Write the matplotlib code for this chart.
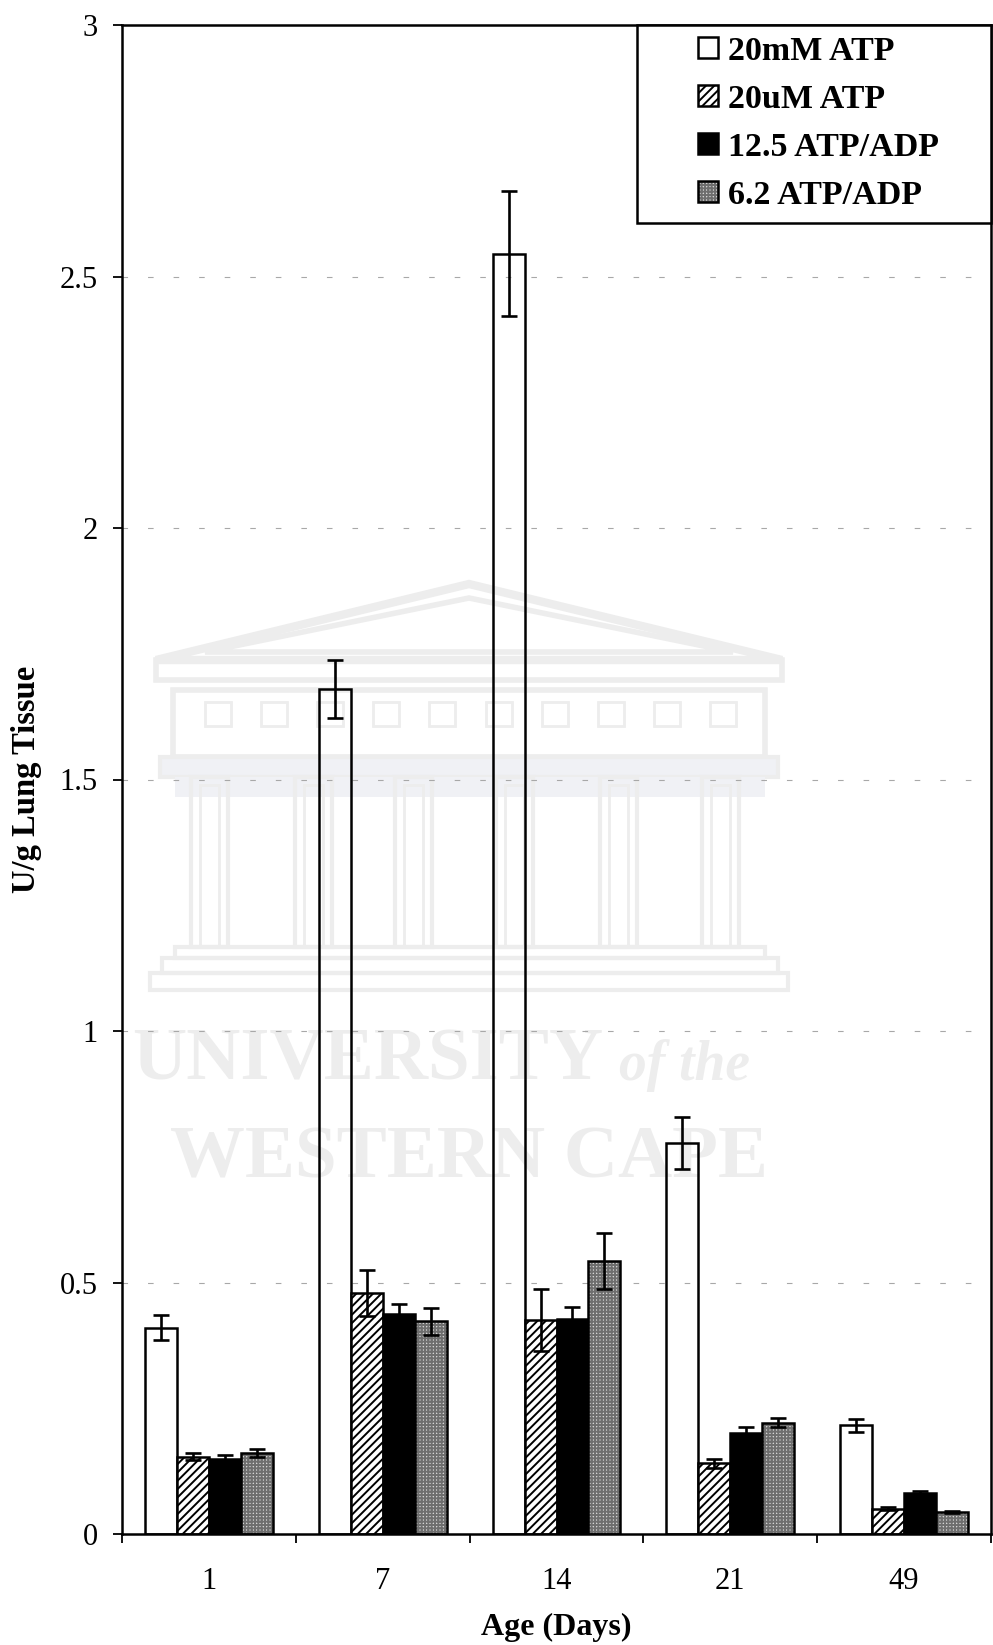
import matplotlib
matplotlib.use("Agg")
import matplotlib.pyplot as plt
import numpy as np
from matplotlib.patches import Patch, Rectangle, Polygon
from matplotlib.legend_handler import HandlerTuple
from matplotlib.ticker import FixedLocator, FuncFormatter

# ---- data -------------------------------------------------------------
ages = ["1", "7", "14", "21", "49"]
series = ["20mM ATP", "20uM ATP", "12.5 ATP/ADP", "6.2 ATP/ADP"]

atp_20mM = [0.41, 1.68, 2.545, 0.777, 0.216]
atp_20uM = [0.154, 0.479, 0.425, 0.141, 0.050]
ratio_12_5 = [0.150, 0.438, 0.427, 0.201, 0.081]
ratio_6_2 = [0.161, 0.423, 0.543, 0.221, 0.044]

err_20mM = [0.025, 0.058, 0.124, 0.052, 0.013]
err_20uM = [0.007, 0.046, 0.062, 0.009, 0.003]
err_12_5 = [0.008, 0.020, 0.025, 0.012, 0.004]
err_6_2 = [0.008, 0.027, 0.056, 0.009, 0.002]

y_ticks = [0, 0.5, 1, 1.5, 2, 2.5, 3]

# ---- style ------------------------------------------------------------
plt.rcParams["font.family"] = ["Liberation Serif", "DejaVu Serif"]
plt.rcParams["hatch.linewidth"] = 1.4

W, H = 993, 1645
fig = plt.figure(figsize=(W / 100, H / 100), dpi=100)


# ---- faint university crest behind the plot -----------------------------
def fp(px, py):
    """pixel position (from the top-left corner) -> figure fraction"""
    return (px / W, 1 - py / H)


mark = "#ededed"
band = "#f0f1f5"


def frect(x0, y0, x1, y1, fill="none", edge=mark, lw=2.5):
    fig.patches.append(Rectangle(fp(x0, y1), (x1 - x0) / W, (y1 - y0) / H,
                                 transform=fig.transFigure, facecolor=fill,
                                 edgecolor=edge, lw=lw, zorder=-5))


def fpoly(pts, lw=5):
    fig.patches.append(Polygon([fp(*p) for p in pts], closed=True,
                               transform=fig.transFigure, facecolor="none",
                               edgecolor=mark, lw=lw, zorder=-5))


fpoly([(156, 660), (469, 584), (782, 660)], lw=6)
fpoly([(205, 652), (469, 598), (733, 652)], lw=4)
frect(156, 660, 782, 680, lw=4)
frect(173, 690, 765, 757, lw=4)
for gx in np.linspace(205, 710, 10):
    frect(gx, 702, gx + 26, 726, lw=2)
frect(160, 757, 778, 777, fill=band, edge=mark, lw=3)
frect(175, 777, 765, 797, fill=band, edge="none", lw=0)
for cx in [191, 295, 395, 496, 600, 702]:
    frect(cx, 777, cx + 37, 947, lw=3)
    frect(cx + 9, 785, cx + 28, 947, lw=2)
frect(175, 947, 765, 958, lw=3)
frect(162, 958, 778, 973, lw=3)
frect(150, 973, 788, 990, lw=3)

fig.text(0.37, 1 - 1062 / H, "UNIVERSITY", fontsize=54, color=mark,
         fontweight="bold", ha="center", va="center", zorder=-5)
fig.text(0.689, 1 - 1066 / H, "of the", fontsize=40, color=mark,
         fontweight="bold", style="italic", ha="center", va="center", zorder=-5)
fig.text(0.472, 1 - 1160 / H, "WESTERN CAPE", fontsize=54, color=mark,
         fontweight="bold", ha="center", va="center", zorder=-5)

# ---- bars -------------------------------------------------------------
ax = fig.add_axes([122 / W, 1 - 1534 / H, (991 - 122) / W, (1534 - 25) / H])
ax.set_facecolor("none")
ax.set_zorder(1)

x = np.arange(len(ages))
bw = 0.184
offsets = np.array([-1.5, -0.5, 0.5, 1.5]) * bw

values = [atp_20mM, atp_20uM, ratio_12_5, ratio_6_2]
errors = [err_20mM, err_20uM, err_12_5, err_6_2]

# dashed reference lines
for yv in y_ticks[1:-1]:
    ax.axhline(yv, color="#a8a8a8", lw=0.8, dashes=(5, 18), zorder=0.5)

edge_lw = 1.8
# 20mM ATP: open bars
ax.bar(x + offsets[0], atp_20mM, bw, facecolor="none", edgecolor="black",
       lw=edge_lw, zorder=2)
# 20uM ATP: diagonal hatch
ax.bar(x + offsets[1], atp_20uM, bw, facecolor="white", edgecolor="black",
       hatch="////", lw=edge_lw, zorder=2)
# 12.5 ATP/ADP: solid black
ax.bar(x + offsets[2], ratio_12_5, bw, facecolor="black", edgecolor="black",
       lw=edge_lw, zorder=2)
# 6.2 ATP/ADP: fine grey screen, then a black outline on top
ax.bar(x + offsets[3], ratio_6_2, bw, facecolor="#d4d4d4", edgecolor="#6e6e6e",
       hatch="+++++", lw=0, zorder=2)
ax.bar(x + offsets[3], ratio_6_2, bw, facecolor="none", edgecolor="black",
       lw=edge_lw, zorder=2.1)

for off, vals, errs in zip(offsets, values, errors):
    ax.errorbar(x + off, vals, yerr=errs, fmt="none", ecolor="black",
                elinewidth=1.9, capsize=5.5, capthick=1.9, zorder=3)

# ---- axes -------------------------------------------------------------
ax.set_xlim(-0.5, len(ages) - 0.5)
ax.set_ylim(0, 3)
ax.set_yticks(y_ticks)
ax.yaxis.set_major_formatter(FuncFormatter(lambda v, p: f"{v:g}"))
ax.tick_params(axis="y", direction="out", length=6.5, width=1.3,
               labelsize=22, pad=11)

ax.xaxis.set_major_locator(FixedLocator(np.arange(-0.5, len(ages), 1.0)))
ax.xaxis.set_minor_locator(FixedLocator(x))
ax.set_xticklabels([], minor=False)
ax.set_xticklabels(ages, minor=True)
ax.tick_params(axis="x", which="major", direction="out", length=6.5, width=1.3)
ax.tick_params(axis="x", which="minor", length=0, labelsize=22, pad=24)

for sp in ax.spines.values():
    sp.set_linewidth(1.8)

ax.set_ylabel("U/g Lung Tissue", fontsize=23.5, fontweight="bold", labelpad=13)
ax.set_xlabel("Age (Days)", fontsize=23, fontweight="bold", labelpad=12)

# ---- legend -----------------------------------------------------------
h_open = Patch(facecolor="white", edgecolor="black", lw=1.8)
h_hatch = Patch(facecolor="white", edgecolor="black", hatch="////", lw=1.8)
h_solid = Patch(facecolor="black", edgecolor="black", lw=1.8)
h_screen = (Patch(facecolor="#d4d4d4", edgecolor="#6e6e6e", hatch="+++++", lw=0),
            Patch(facecolor="none", edgecolor="black", lw=1.8))
leg = ax.legend([h_open, h_hatch, h_solid, h_screen], series,
                handler_map={tuple: HandlerTuple(ndivide=1, pad=0)},
                loc="upper left", bbox_to_anchor=(0.6628, 0.993),
                frameon=False, borderpad=0, borderaxespad=0,
                handlelength=0.58, handleheight=0.58, handletextpad=0.3,
                labelspacing=0.5, prop={"size": 24.5, "weight": "bold"})
ax.add_patch(Rectangle((0.5923, 0.8688), 1 - 0.5923, 1 - 0.8688,
                       transform=ax.transAxes, facecolor="white",
                       edgecolor="black", lw=1.8, zorder=4.5, clip_on=False))
leg.set_zorder(5)

fig.savefig("out.png", dpi=100)
